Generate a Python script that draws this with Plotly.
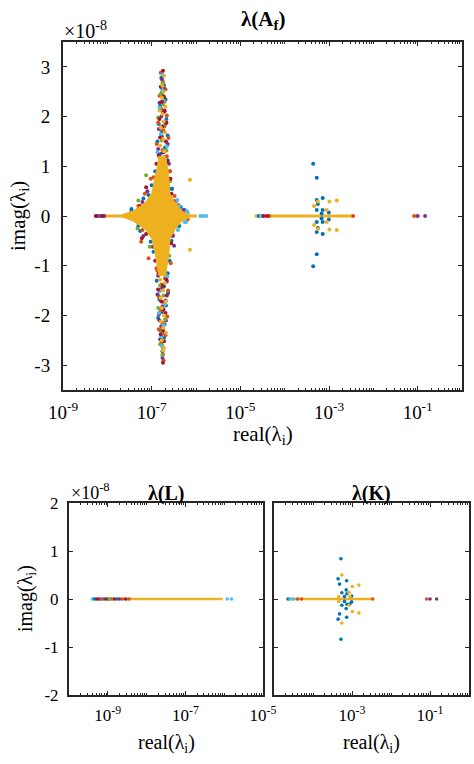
import plotly.graph_objects as go

# ---------------- colours (MATLAB default order) ----------------
BLUE, ORANGE, YELLOW, PURPLE, GREEN, LBLUE, DRED = (
    '#0072BD', '#D95319', '#EDB120', '#7E2F8E', '#77AC30', '#4DBEEE', '#A2142F')

# ---------------- data: lambda(A_f)  (real, imag / 1e-8) ----------------
AF_BLUE = [
    (1.45e-7, 1.05), (2.3e-7, 1.12), (1.6e-7, 1.25), (2.0e-7, 1.38), (1.35e-7, 1.5), (2.3e-7, 1.62), (1.7e-7, 1.7),
    (1.45e-7, 1.85), (2.15e-7, 1.95), (1.8e-7, 2.08), (1.55e-7, 2.22), (2.05e-7, 2.35), (1.7e-7, 2.48), (1.9e-7, 2.63),
    (1.65e-7, 2.78),
    (1.5e-7, -1.02), (2.3e-7, -1.15), (1.3e-7, -1.3), (1.9e-7, -1.42), (2.35e-7, -1.55), (1.5e-7, -1.68),
    (2.1e-7, -1.8), (1.7e-7, -1.93), (1.4e-7, -2.05), (1.95e-7, -2.18), (1.55e-7, -2.3), (1.9e-7, -2.45),
    (1.7e-7, -2.6), (1.75e-7, -2.72),
    (3.5e-8, 0.1), (4.2e-8, 0.08), (4.5e-8, -0.1), (2.9e-7, 0.55), (1.0e-7, 0.62), (6.5e-8, 0.35), (2.8e-7, -0.5),
    (1.1e-7, -0.72), (4.5e-7, 0.18), (5.5e-8, -0.3), (3.6e-7, -0.2),
    (3.5e-8, 0.14), (8.5e-8, 0.42), (1.2e-7, 0.9), (2.75e-7, 0.55), (5.5e-7, 0.12),
    (5.0e-8, -0.2), (9.5e-8, -0.52), (2.55e-7, -0.9), (4.2e-7, -0.2),
    (7.0e-9, 0.0), (2.6e-5, 0.0),
    (4.4e-4, 1.05), (5.3e-4, 0.77), (7.2e-4, 0.36), (5.3e-4, 0.32), (5.6e-4, 0.24), (5.3e-4, 0.12), (7.2e-4, 0.12),
    (9.9e-4, 0.07), (6.8e-4, 0.05),
    (6.8e-4, -0.05), (9.9e-4, -0.07), (7.2e-4, -0.12), (5.3e-4, -0.12), (5.6e-4, -0.24), (5.3e-4, -0.32),
    (7.2e-4, -0.36), (5.3e-4, -0.77), (4.4e-4, -1.01),
]
AF_ORANGE = [
    (1.55e-7, 1.08), (2.2e-7, 1.2), (1.75e-7, 1.33), (1.3e-7, 1.45), (2.4e-7, 1.57), (1.85e-7, 1.72), (1.4e-7, 1.88),
    (2.2e-7, 2.02), (1.65e-7, 2.15), (1.95e-7, 2.3), (1.5e-7, 2.42), (2.05e-7, 2.55), (1.8e-7, 2.7), (1.6e-7, 2.88),
    (1.35e-7, -1.1), (2.0e-7, -1.25), (1.65e-7, -1.38), (2.35e-7, -1.5), (1.45e-7, -1.62), (1.9e-7, -1.75),
    (1.6e-7, -1.9), (2.25e-7, -2.02), (1.75e-7, -2.15), (1.45e-7, -2.28), (2.05e-7, -2.4), (1.65e-7, -2.55),
    (1.8e-7, -2.78), (1.85e-7, -2.9),
    (7.0e-8, 0.45), (3.3e-7, 0.4), (5.8e-8, -0.52), (3.0e-7, -0.38), (9.5e-8, 0.75), (2.6e-7, 0.9), (8.5e-8, -0.85),
    (2.7e-7, -0.95), (4.0e-7, 0.22),
    (5.0e-8, 0.2), (1.1e-7, 0.78), (2.55e-7, 0.9), (3.6e-7, 0.3), (6.2e-8, -0.28), (1.28e-7, -1.05), (6.5e-7, -0.07),
    (8.8e-9, 0.0), (4.5e-5, 0.0), (3.5e-3, 0.0), (8.3e-2, 0.0),
]
AF_YELLOW = [
    (1.7e-7, 1.15), (1.9e-7, 1.3), (1.55e-7, 1.42), (1.8e-7, 1.55), (2.0e-7, 1.68), (1.6e-7, 1.78), (1.85e-7, 1.9),
    (1.75e-7, 2.05), (1.5e-7, 2.12), (2.05e-7, 2.2), (1.7e-7, 2.38), (1.85e-7, 2.5), (1.75e-7, 2.62), (1.9e-7, 2.82),
    (1.75e-7, -1.12), (1.55e-7, -1.28), (2.0e-7, -1.35), (1.8e-7, -1.5), (1.6e-7, -1.65), (2.1e-7, -1.72),
    (1.7e-7, -1.85), (1.9e-7, -2.0), (1.6e-7, -2.12), (1.8e-7, -2.25), (2.1e-7, -2.35), (1.7e-7, -2.5),
    (1.9e-7, -2.65), (1.78e-7, -2.7),
    (7.3e-7, 0.73), (7.3e-7, -0.68),
    (5.6e-4, 0.29), (1.02e-3, 0.29), (1.5e-3, 0.31), (4.6e-4, 0.2), (8.9e-4, 0.12),
    (4.6e-4, -0.18), (5.6e-4, -0.26), (1.02e-3, -0.27), (1.5e-3, -0.28), (8.9e-4, -0.12),
]
AF_PURPLE = [
    (1.6e-7, 1.02), (1.95e-7, 1.18), (1.4e-7, 1.35), (2.3e-7, 1.45), (1.7e-7, 1.6), (1.45e-7, 1.75), (2.05e-7, 1.85),
    (1.65e-7, 2.0), (1.95e-7, 2.12), (1.5e-7, 2.28), (1.75e-7, 2.42), (1.85e-7, 2.58), (1.7e-7, 2.75),
    (1.85e-7, -1.05), (1.4e-7, -1.2), (2.2e-7, -1.32), (1.7e-7, -1.45), (1.35e-7, -1.58), (2.05e-7, -1.7),
    (1.75e-7, -1.82), (1.45e-7, -1.98), (2.1e-7, -2.1), (1.65e-7, -2.22), (1.95e-7, -2.35), (1.55e-7, -2.48),
    (1.8e-7, -2.65), (1.75e-7, -2.85),
    (8.0e-8, 0.5), (3.1e-7, 0.3), (6.5e-8, -0.4), (3.2e-7, -0.6), (5.2e-7, 0.12),
    (6.2e-8, 0.28), (2.45e-7, 1.05), (1.05e-7, -0.62), (3.0e-7, -0.4),
    (6.0e-9, 0.0), (8.2e-9, 0.0), (0.10, 0.0), (0.147, 0.0),
]
AF_GREEN = [
    (1.5e-7, 1.18), (2.15e-7, 1.32), (1.7e-7, 1.52), (1.95e-7, 1.8), (1.4e-7, 1.98), (1.8e-7, 2.25), (1.6e-7, 2.45),
    (1.75e-7, 2.68),
    (2.1e-7, -1.18), (1.55e-7, -1.4), (1.85e-7, -1.6), (1.4e-7, -1.85), (2.0e-7, -2.08), (1.7e-7, -2.32),
    (1.55e-7, -2.58), (1.75e-7, -2.8),
    (5.0e-8, 0.31), (4.8e-8, -0.25), (2.6e-7, 0.7), (7.5e-8, 0.82), (2.5e-7, -0.8), (9.0e-8, -0.62),
]
AF_LBLUE = [
    (1.8e-7, 1.1), (1.35e-7, 1.28), (2.2e-7, 1.4), (1.6e-7, 1.65), (2.0e-7, 1.9), (1.5e-7, 2.18), (1.85e-7, 2.32),
    (1.7e-7, 2.55), (1.75e-7, 2.85),
    (1.6e-7, -1.08), (2.25e-7, -1.22), (1.5e-7, -1.52), (2.0e-7, -1.78), (1.45e-7, -1.95), (1.85e-7, -2.2),
    (1.65e-7, -2.42), (1.72e-7, -2.62),
    (6.2e-7, 0.1), (6.0e-7, -0.12), (3.8e-7, 0.32), (4.1e-8, 0.05), (3.9e-7, -0.28),
    (6.5e-7, 0.07), (4.2e-7, 0.2), (5.5e-7, -0.12),
    (1.25e-6, 0.0), (1.45e-6, 0.0), (1.7e-6, 0.0), (2.9e-5, 0.0),
]
AF_DRED = [
    (1.65e-7, 1.0), (2.25e-7, 1.1), (1.45e-7, 1.22), (1.85e-7, 1.28), (2.1e-7, 1.5), (1.55e-7, 1.58), (1.75e-7, 1.8),
    (2.15e-7, 1.88), (1.5e-7, 1.95), (1.95e-7, 2.1), (1.7e-7, 2.3), (1.9e-7, 2.4), (1.6e-7, 2.6), (1.8e-7, 2.92),
    (1.7e-7, -1.0), (1.45e-7, -1.15), (2.15e-7, -1.28), (1.8e-7, -1.4), (1.4e-7, -1.48), (2.2e-7, -1.6),
    (1.65e-7, -1.72), (1.85e-7, -1.88), (2.05e-7, -1.95), (1.5e-7, -2.1), (1.8e-7, -2.3), (1.6e-7, -2.38),
    (1.9e-7, -2.52), (1.8e-7, -2.95),
    (7.5e-8, 0.58), (6.0e-8, -0.45), (2.8e-7, 0.45), (2.9e-7, -0.3), (5.5e-8, 0.2),
    (1.28e-7, 1.05), (2.65e-7, 0.75), (1.2e-7, -0.9), (2.75e-7, -0.55), (7.5e-8, -0.36),
    (5.5e-9, 0.0), (7.6e-9, 0.0), (3.3e-5, 0.0), (4.0e-5, 0.0),
]
# dense core of real-axis eigenvalues (envelope of the solid yellow star)
AF_CORE = [
    (1.9e-8, 0.0), (2.2e-8, 0.03), (3.8e-8, 0.1), (7.1e-8, 0.26), (1.0e-7, 0.45), (1.2e-7, 0.75), (1.35e-7, 1.0),
    (1.45e-7, 1.2), (2.05e-7, 1.2), (2.25e-7, 1.0), (2.45e-7, 0.75), (2.6e-7, 0.45), (3.4e-7, 0.26), (4.8e-7, 0.1),
    (7.0e-7, 0.03), (8.0e-7, 0.0), (7.0e-7, -0.03), (4.8e-7, -0.1), (3.4e-7, -0.26), (2.6e-7, -0.45),
    (2.45e-7, -0.75), (2.25e-7, -1.0), (2.05e-7, -1.2), (1.45e-7, -1.2), (1.35e-7, -1.0), (1.2e-7, -0.75),
    (1.0e-7, -0.45), (7.1e-8, -0.26), (3.8e-8, -0.1), (2.2e-8, -0.03), (1.9e-8, 0.0),
]
AF_REAL_RUNS = [(9.8e-9, 1.05e-6), (2.1e-5, 3.5e-3)]

# ---------------- data: lambda(L) ----------------
L_REAL_RUNS = [(4.0e-10, 9.1e-7)]
L_POINTS = {
    LBLUE: [4.0e-10, 6.0e-10, 1.2e-6, 1.55e-6],
    BLUE: [4.6e-10, 8.0e-10, 1.7e-9],
    DRED: [5.3e-10, 9.2e-10, 1.45e-9, 2.9e-9],
    PURPLE: [6.2e-10, 1.05e-9, 2.0e-9],
    ORANGE: [7.0e-10, 1.25e-9, 2.4e-9, 3.5e-9],
    GREEN: [1.1e-9],
}

# ---------------- data: lambda(K) ----------------
K_REAL_RUNS = [(2.1e-5, 3.4e-3)]
K_BLUE = [
    (5.2e-4, 0.84), (4.4e-4, 0.42), (7.3e-4, 0.38), (4.8e-4, 0.31), (7.1e-4, 0.19), (5.5e-4, 0.13), (7.4e-4, 0.11),
    (6.4e-4, 0.05), (9.8e-4, 0.06),
    (6.4e-4, -0.05), (9.8e-4, -0.06), (8.9e-4, -0.1), (7.4e-4, -0.11), (5.5e-4, -0.13), (7.1e-4, -0.2),
    (4.8e-4, -0.31), (7.3e-4, -0.38), (4.4e-4, -0.42), (5.2e-4, -0.84),
    (2.3e-5, 0.0),
]
K_YELLOW = [
    (5.5e-4, 0.5), (1.02e-3, 0.26), (1.5e-3, 0.29), (8.4e-4, 0.14), (4.6e-4, 0.05), (8.9e-4, 0.05),
    (4.6e-4, -0.05), (8.4e-4, -0.13), (1.02e-3, -0.26), (1.5e-3, -0.29), (5.5e-4, -0.5),
]
K_LBLUE = [(2.6e-5, 0.0), (3.1e-5, 0.0)]
K_ORANGE = [(4.0e-5, 0.0), (5.1e-5, 0.0), (3.4e-3, 0.0), (8.2e-2, 0.0)]
K_PURPLE = [(0.10, 0.0), (0.148, 0.0)]

# ---------------- tick labels ----------------
AF_XTICKS = [1e-9, 1e-7, 1e-5, 1e-3, 1e-1]
AF_XTEXT = ['10<sup>-9</sup>', '10<sup>-7</sup>', '10<sup>-5</sup>', '10<sup>-3</sup>', '10<sup>-1</sup>']
AF_YTICKS = [-3, -2, -1, 0, 1, 2, 3]
AF_YTEXT = ['-3', '-2', '-1', '0', '1', '2', '3']
L_XTICKS = [1e-9, 1e-7, 1e-5]
L_XTEXT = ['10<sup>-9</sup>', '10<sup>-7</sup>', '10<sup>-5</sup>']
K_XTICKS = [1e-3, 1e-1]
K_XTEXT = ['10<sup>-3</sup>', '10<sup>-1</sup>']
B_YTICKS = [-2, -1, 0, 1, 2]
B_YTEXT = ['-2', '-1', '0', '1', '2']

W, H = 474, 764
FONT = 'Liberation Serif'
AX = '#262626'

fig = go.Figure()


def add_pts(pairs, color, xa, ya, size=3.6):
    fig.add_trace(go.Scatter(x=[p[0] for p in pairs], y=[p[1] for p in pairs], mode='markers',
                             marker=dict(color=color, size=size, line=dict(width=0)),
                             xaxis=xa, yaxis=ya, showlegend=False, hoverinfo='skip'))


def add_run(run, xa, ya, width):
    fig.add_trace(go.Scatter(x=[run[0], run[1]], y=[0, 0], mode='lines',
                             line=dict(color=YELLOW, width=width),
                             xaxis=xa, yaxis=ya, showlegend=False, hoverinfo='skip'))


# --- top panel ---
for r in AF_REAL_RUNS:
    add_run(r, 'x', 'y', 3)
for pairs, c in [(AF_BLUE, BLUE), (AF_ORANGE, ORANGE), (AF_PURPLE, PURPLE), (AF_GREEN, GREEN),
                 (AF_LBLUE, LBLUE), (AF_DRED, DRED)]:
    add_pts(pairs, c, 'x', 'y', 4)
fig.add_trace(go.Scatter(x=[p[0] for p in AF_CORE], y=[p[1] for p in AF_CORE], mode='lines', fill='toself',
                         fillcolor=YELLOW, line=dict(color=YELLOW, width=1), xaxis='x', yaxis='y',
                         showlegend=False, hoverinfo='skip'))
add_pts(AF_YELLOW, YELLOW, 'x', 'y', 4)

# --- bottom-left panel ---
for r in L_REAL_RUNS:
    add_run(r, 'x2', 'y2', 2.5)
for c, xs in L_POINTS.items():
    add_pts([(v, 0.0) for v in xs], c, 'x2', 'y2')

# --- bottom-right panel ---
for r in K_REAL_RUNS:
    add_run(r, 'x3', 'y3', 2.5)
for pairs, c in [(K_BLUE, BLUE), (K_LBLUE, LBLUE), (K_ORANGE, ORANGE), (K_PURPLE, PURPLE), (K_YELLOW, YELLOW)]:
    add_pts(pairs, c, 'x3', 'y3')


def minor_vals(lo, hi):
    out = []
    for k in range(lo, hi):
        for m in range(1, 10):
            out.append(m * 10.0 ** k)
    return out


def xcfg(domain, rng, tv, tt, anchor, fs, standoff):
    return dict(type='log', domain=domain, range=rng, anchor=anchor, tickmode='array', tickvals=tv, ticktext=tt,
                ticks='inside', ticklen=4, tickwidth=1, tickcolor=AX, showline=True, linewidth=2, linecolor=AX,
                mirror='allticks', showgrid=False, zeroline=False, automargin=False,
                tickfont=dict(family=FONT, size=fs, color='black'), ticklabelstandoff=standoff,
                minor=dict(tickmode='array', tickvals=minor_vals(rng[0], rng[1]), ticks='inside', ticklen=2,
                           tickcolor=AX, tickwidth=1, showgrid=False))


def ycfg(domain, rng, tv, tt, anchor, fs, show=True, standoff=6):
    return dict(domain=domain, range=rng, anchor=anchor, tickmode='array', tickvals=tv, ticktext=tt,
                ticks='inside', ticklen=4, tickwidth=1, tickcolor=AX, showline=True, linewidth=2, linecolor=AX,
                mirror='allticks', showgrid=False, zeroline=False, showticklabels=show, automargin=False,
                tickfont=dict(family=FONT, size=fs, color='black'), ticklabelstandoff=standoff)


def px(x):
    return x / W


def py(y):
    return 1 - y / H


fig.update_layout(
    template='none',
    width=W, height=H, margin=dict(l=0, r=0, t=0, b=0, pad=0, autoexpand=False),
    paper_bgcolor='white', plot_bgcolor='white',
    xaxis=xcfg([px(63), px(462)], [-9, 0], AF_XTICKS, AF_XTEXT, 'y', 19, 4),
    yaxis=ycfg([py(390), py(42)], [-3.5, 3.5], AF_YTICKS, AF_YTEXT, 'x', 19, standoff=7),
    xaxis2=xcfg([px(69), px(263)], [-10, -5], L_XTICKS, L_XTEXT, 'y2', 17, 4),
    yaxis2=ycfg([py(695), py(503)], [-2, 2], B_YTICKS, B_YTEXT, 'x2', 17, standoff=5),
    xaxis3=xcfg([px(274), px(469)], [-5, 0], K_XTICKS, K_XTEXT, 'y3', 17, 4),
    yaxis3=ycfg([py(695), py(503)], [-2, 2], B_YTICKS, B_YTEXT, 'x3', 17, show=False),
)


def ann(text, x, y, size, xanchor='center', angle=0):
    fig.add_annotation(text=text, x=px(x), y=py(y), xref='paper', yref='paper', showarrow=False,
                       xanchor=xanchor, yanchor='middle', textangle=angle,
                       font=dict(family=FONT, size=size, color='black'))


ann('<b>λ(A<sub>f</sub>)</b>', 262.5, 20, 21)
ann('×10<sup>-8</sup>', 62, 30, 20, 'left')
ann('real(λ<sub>i</sub>)', 262.5, 435, 21)
ann('imag(λ<sub>i</sub>)', 19, 216, 21, angle=-90)

ann('<b>λ(L)</b>', 166, 493, 20)
ann('×10<sup>-8</sup>', 69, 491, 18, 'left')
ann('real(λ<sub>i</sub>)', 166, 743, 20)
ann('imag(λ<sub>i</sub>)', 26, 599, 20, angle=-90)

ann('<b>λ(K)</b>', 371.5, 493, 20)
ann('real(λ<sub>i</sub>)', 371.5, 743, 20)

fig.write_html('out.html', config={'displayModeBar': False},
               post_script="document.body.style.margin='0px';")
